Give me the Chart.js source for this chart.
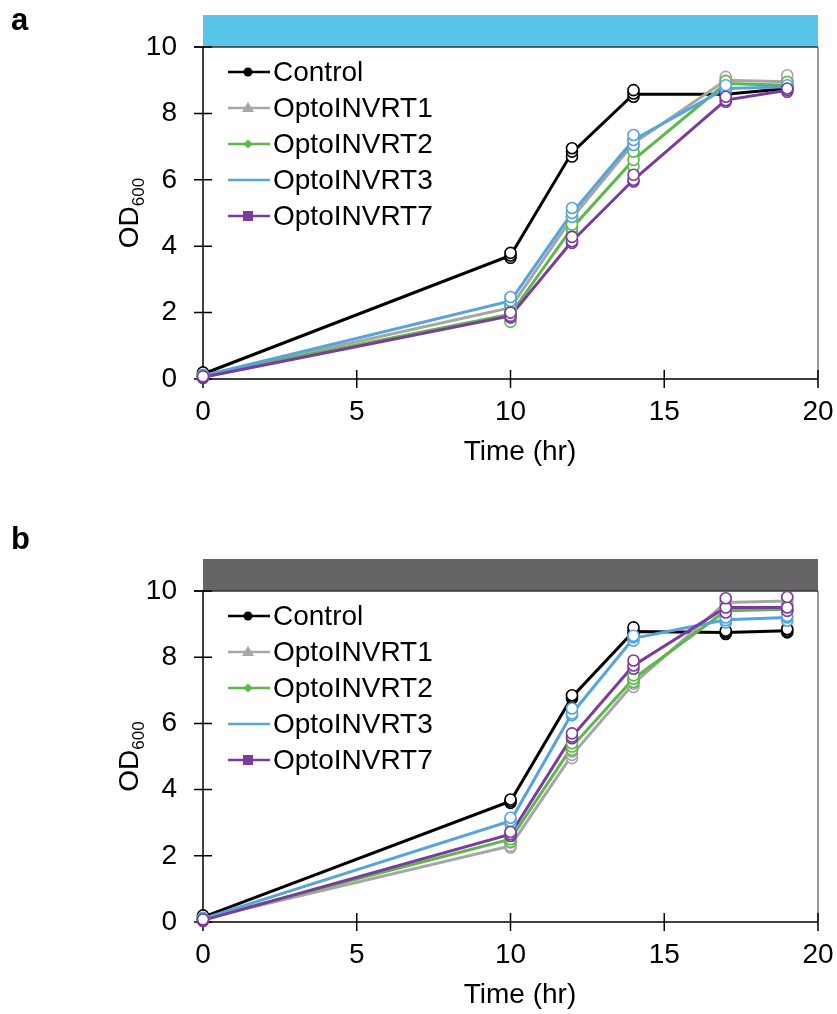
<!DOCTYPE html>
<html>
<head>
<meta charset="utf-8">
<script src="https://cdn.jsdelivr.net/npm/chart.js@4.4.0/dist/chart.umd.min.js"></script>
<style>
  html, body { margin: 0; padding: 0; background: #fff; }
  #wrap { position: relative; width: 837px; height: 1014px; }
  canvas { position: absolute; left: 0; }
  #chartA { top: 0; }
  #chartB { top: 510px; }
</style>
</head>
<body>
<div id="wrap">
  <canvas id="chartA" width="837" height="510"></canvas>
  <canvas id="chartB" width="837" height="504"></canvas>
</div>
<script>
// sampling times (hr)
const times = [0, 10, 12, 14, 17, 19];
const seriesNames = ['Control', 'OptoINVRT1', 'OptoINVRT2', 'OptoINVRT3', 'OptoINVRT7'];
const xTickValues = [0, 5, 10, 15, 20];
const yTickValues = [0, 2, 4, 6, 8, 10];

// panel a (blue light) - mean lines
const aControl = [0.15, 3.72, 6.82, 8.58, 8.58, 8.75];
const aOpto1 = [0.1, 2.15, 4.85, 7.1, 9.0, 8.95];
const aOpto2 = [0.1, 1.95, 4.55, 6.6, 8.9, 8.85];
const aOpto3 = [0.1, 2.35, 5.0, 7.2, 8.75, 8.8];
const aOpto7 = [0.05, 1.9, 4.15, 6.0, 8.4, 8.7];
// panel a replicates (3 per time point)
const aControlReps = [[0.1, 0.15, 0.2], [3.65, 3.72, 3.8], [6.7, 6.85, 6.95], [8.5, 8.6, 8.7], [8.5, 8.6, 8.65], [8.7, 8.75, 8.8]];
const aOpto1Reps = [[0.05, 0.1, 0.12], [2.05, 2.15, 2.25], [4.75, 4.85, 4.95], [7.0, 7.1, 7.2], [8.95, 9.0, 9.1], [8.9, 9.0, 9.15]];
const aOpto2Reps = [[0.05, 0.1, 0.12], [1.72, 2.0, 2.1], [4.45, 4.55, 4.65], [6.4, 6.6, 6.85], [8.85, 8.9, 8.98], [8.8, 8.85, 8.95]];
const aOpto3Reps = [[0.08, 0.1, 0.12], [2.25, 2.35, 2.47], [4.88, 5.0, 5.15], [7.05, 7.2, 7.35], [8.65, 8.75, 8.85], [8.7, 8.8, 8.85]];
const aOpto7Reps = [[0.03, 0.05, 0.08], [1.85, 1.9, 2.0], [4.1, 4.15, 4.28], [5.95, 6.0, 6.15], [8.35, 8.4, 8.5], [8.65, 8.7, 8.75]];

// panel b (dark) - mean lines
const bControl = [0.15, 3.65, 6.8, 8.78, 8.75, 8.8];
const bOpto1 = [0.1, 2.3, 5.05, 7.2, 9.65, 9.7];
const bOpto2 = [0.1, 2.5, 5.3, 7.35, 9.4, 9.45];
const bOpto3 = [0.1, 3.05, 6.3, 8.57, 9.13, 9.2];
const bOpto7 = [0.05, 2.65, 5.6, 7.75, 9.5, 9.5];
// panel b replicates
const bControlReps = [[0.1, 0.15, 0.2], [3.6, 3.65, 3.7], [6.75, 6.8, 6.85], [8.7, 8.8, 8.9], [8.7, 8.75, 8.8], [8.75, 8.8, 8.85]];
const bOpto1Reps = [[0.05, 0.1, 0.12], [2.25, 2.3, 2.4], [4.95, 5.05, 5.15], [7.1, 7.2, 7.3], [9.6, 9.65, 9.7], [9.65, 9.7, 9.75]];
const bOpto2Reps = [[0.05, 0.1, 0.12], [2.42, 2.5, 2.6], [5.2, 5.3, 5.4], [7.25, 7.35, 7.45], [9.35, 9.4, 9.5], [9.4, 9.45, 9.55]];
const bOpto3Reps = [[0.08, 0.1, 0.12], [2.95, 3.05, 3.15], [6.25, 6.3, 6.45], [8.5, 8.6, 8.65], [9.05, 9.12, 9.2], [9.1, 9.2, 9.25]];
const bOpto7Reps = [[0.03, 0.05, 0.08], [2.6, 2.65, 2.72], [5.55, 5.6, 5.7], [7.65, 7.75, 7.9], [9.35, 9.5, 9.78], [9.4, 9.5, 9.82]];

const colors = ['#000000', '#a6a6a6', '#5cb848', '#55a4dc', '#7a3b9c'];
const markers = ['circle', 'triangle', 'diamond', 'none', 'square'];
const FONT = '"Liberation Sans", Arial, sans-serif';

Chart.defaults.font.family = FONT;

function drawMarker(ctx, kind, x, y, color) {
  ctx.fillStyle = color;
  ctx.beginPath();
  if (kind === 'circle') {
    ctx.arc(x, y, 4.5, 0, Math.PI * 2);
  } else if (kind === 'triangle') {
    ctx.moveTo(x, y - 6); ctx.lineTo(x + 6, y + 4); ctx.lineTo(x - 6, y + 4); ctx.closePath();
  } else if (kind === 'diamond') {
    ctx.moveTo(x, y - 4.5); ctx.lineTo(x + 4.5, y); ctx.lineTo(x, y + 4.5); ctx.lineTo(x - 4.5, y); ctx.closePath();
  } else if (kind === 'square') {
    ctx.rect(x - 5, y - 5, 10, 10);
  } else {
    return;
  }
  ctx.fill();
}

const panelPlugin = {
  id: 'panel',
  beforeDatasetsDraw(chart, args, opts) {
    const ctx = chart.ctx;
    const {left, right, top, bottom} = chart.chartArea;
    const xs = chart.scales.x, ys = chart.scales.y;
    ctx.save();
    // light condition bar
    ctx.fillStyle = opts.barColor;
    ctx.fillRect(left, top - 32, right - left, 32);
    // frame
    ctx.lineWidth = 1.5;
    ctx.strokeStyle = '#333';
    ctx.beginPath(); ctx.moveTo(left - 9, top); ctx.lineTo(right, top); ctx.stroke();
    ctx.strokeStyle = '#555';
    ctx.lineWidth = 1.2;
    ctx.beginPath(); ctx.moveTo(right, top); ctx.lineTo(right, bottom); ctx.stroke();
    ctx.strokeStyle = '#000';
    ctx.lineWidth = 1.5;
    ctx.beginPath(); ctx.moveTo(left, top); ctx.lineTo(left, bottom); ctx.lineTo(right, bottom); ctx.stroke();
    // crossing tick marks
    ctx.beginPath();
    yTickValues.forEach(v => { const p = ys.getPixelForValue(v); ctx.moveTo(left - 9, p); ctx.lineTo(left + 9, p); });
    xTickValues.forEach(v => { const p = xs.getPixelForValue(v); ctx.moveTo(p, bottom - 9); ctx.lineTo(p, bottom + 9); });
    ctx.stroke();
    ctx.restore();
  },
  afterDraw(chart, args, opts) {
    const ctx = chart.ctx;
    const {left, right, top, bottom} = chart.chartArea;
    ctx.save();
    // panel letter
    ctx.fillStyle = '#000';
    ctx.font = 'bold 31px ' + FONT;
    ctx.textBaseline = 'alphabetic';
    ctx.textAlign = 'left';
    ctx.fillText(opts.label, 11, opts.labelY);
    // x axis title
    ctx.font = '28px ' + FONT;
    ctx.textAlign = 'center';
    ctx.textBaseline = 'middle';
    ctx.fillText('Time (hr)', 520, bottom + 73);
    // y axis title with subscript
    const cy = (top + bottom) / 2;
    ctx.translate(138, cy);
    ctx.rotate(-Math.PI / 2);
    ctx.textAlign = 'left';
    ctx.textBaseline = 'alphabetic';
    ctx.font = '28px ' + FONT;
    const w1 = ctx.measureText('OD').width;
    ctx.font = '17px ' + FONT;
    const w2 = ctx.measureText('600').width;
    const x0 = -(w1 + w2) / 2;
    ctx.font = '28px ' + FONT;
    ctx.fillText('OD', x0, 0);
    ctx.font = '17px ' + FONT;
    ctx.fillText('600', x0 + w1, 6);
    ctx.setTransform(1, 0, 0, 1, 0, 0);
    // legend
    ctx.font = '28px ' + FONT;
    ctx.textAlign = 'left';
    ctx.textBaseline = 'middle';
    seriesNames.forEach((name, i) => {
      const y = top + 25 + 36 * i;
      ctx.strokeStyle = colors[i];
      ctx.lineWidth = 2.5;
      ctx.beginPath(); ctx.moveTo(228, y); ctx.lineTo(270, y); ctx.stroke();
      drawMarker(ctx, markers[i], 248, y, colors[i]);
      ctx.fillStyle = '#000';
      ctx.fillText(name, 273, y + 1);
    });
    ctx.restore();
  }
};

function makePanel(id, label, labelY, barColor, plotTop, plotBottom, means, reps) {
  const canvas = document.getElementById(id);
  const H = canvas.height;
  const datasets = [];
  seriesNames.forEach((name, i) => {
    datasets.push({
      label: name,
      data: times.map((t, j) => ({x: t, y: means[i][j]})),
      showLine: true,
      borderColor: colors[i],
      borderWidth: 3,
      pointRadius: 0,
      pointHoverRadius: 0,
      order: 30 - i,
      clip: false
    });
  });
  seriesNames.forEach((name, i) => {
    const pts = [];
    times.forEach((t, j) => reps[i][j].forEach(v => pts.push({x: t, y: v})));
    datasets.push({
      label: name + ' replicates',
      data: pts,
      showLine: false,
      pointRadius: 5.5,
      pointHoverRadius: 5.5,
      pointBackgroundColor: '#ffffff',
      pointBorderColor: colors[i],
      pointBorderWidth: 1.6,
      order: 10 - i,
      clip: false
    });
  });

  return new Chart(canvas, {
    type: 'scatter',
    data: {datasets},
    plugins: [panelPlugin],
    options: {
      responsive: false,
      animation: false,
      events: [],
      layout: {padding: {left: 0, right: 19, top: plotTop, bottom: 0}},
      plugins: {
        legend: {display: false},
        tooltip: {enabled: false},
        panel: {label, labelY, barColor}
      },
      scales: {
        x: {
          type: 'linear', min: 0, max: 20,
          grid: {display: false, drawTicks: false},
          border: {display: false},
          ticks: {padding: 16, color: '#000', font: {size: 28}},
          afterBuildTicks: s => { s.ticks = xTickValues.map(v => ({value: v})); },
          afterFit: s => { s.height = H - plotBottom; s.paddingLeft = 0; s.paddingRight = 0; }
        },
        y: {
          type: 'linear', min: 0, max: 10,
          grid: {display: false, drawTicks: false},
          border: {display: false},
          ticks: {padding: 26, color: '#000', font: {size: 28}},
          afterBuildTicks: s => { s.ticks = yTickValues.map(v => ({value: v})); },
          afterFit: s => { s.width = 203; s.paddingTop = 0; s.paddingBottom = 0; }
        }
      }
    }
  });
}

makePanel('chartA', 'a', 30, '#57c6e9', 47, 379,
  [aControl, aOpto1, aOpto2, aOpto3, aOpto7],
  [aControlReps, aOpto1Reps, aOpto2Reps, aOpto3Reps, aOpto7Reps]);
makePanel('chartB', 'b', 39, '#666466', 81, 412,
  [bControl, bOpto1, bOpto2, bOpto3, bOpto7],
  [bControlReps, bOpto1Reps, bOpto2Reps, bOpto3Reps, bOpto7Reps]);
</script>
</body>
</html>
